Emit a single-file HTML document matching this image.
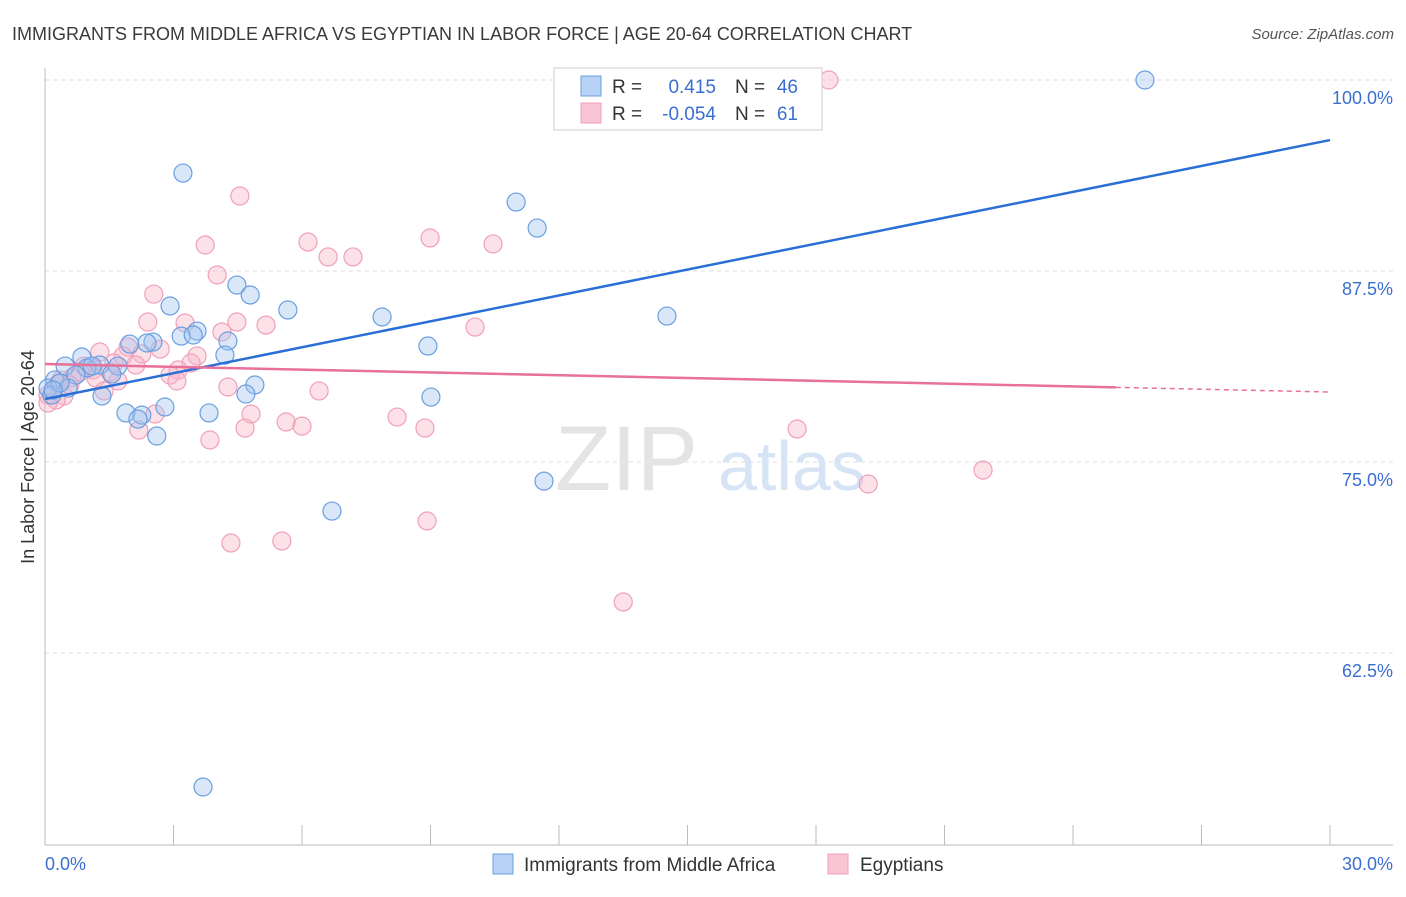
<!DOCTYPE html>
<html><head><meta charset="utf-8"><style>
body{margin:0;background:#fff;font-family:"Liberation Sans",sans-serif}
svg text{font-family:"Liberation Sans",sans-serif}
</style></head><body>
<svg id="chart" width="1406" height="892" xmlns="http://www.w3.org/2000/svg">
<text x="12" y="40" font-size="18" fill="#3a3a3a">IMMIGRANTS FROM MIDDLE AFRICA VS EGYPTIAN IN LABOR FORCE | AGE 20-64 CORRELATION CHART</text>
<text x="1394" y="39" font-size="15" fill="#555" text-anchor="end" font-style="italic">Source: ZipAtlas.com</text>
<g id="grid"></g>
<text x="555" y="490" font-size="92" fill="#e4e4e4" font-family="Liberation Serif">ZIP</text>
<text x="718" y="490" font-size="70" fill="#d6e4f5">atlas</text>
<line x1="45" y1="68" x2="45" y2="845" stroke="#bbb"/>
<line x1="45" y1="845" x2="1393" y2="845" stroke="#bbb"/>
<g id="xticks"></g>
<text transform="translate(34,457) rotate(-90)" font-size="18" fill="#333" text-anchor="middle">In Labor Force | Age 20-64</text>
<text x="45" y="870" font-size="18" fill="#3a6fd0">0.0%</text>
<text x="1393" y="870" font-size="18" fill="#3a6fd0" text-anchor="end">30.0%</text>
<g id="points"></g>
<g id="trends"></g>
<g>
<rect x="554" y="68" width="268" height="62" fill="#fff" stroke="#ccc"/>
<rect x="581" y="76" width="20" height="20" fill="#b8d2f5" stroke="#6a9fe0"/>
<rect x="581" y="103" width="20" height="20" fill="#f9c4d4" stroke="#f0a0b8"/>
<text x="612" y="93" font-size="19" fill="#333">R =</text>
<text x="716" y="93" font-size="19" fill="#3a6fd0" text-anchor="end">0.415</text>
<text x="735" y="93" font-size="19" fill="#333">N =</text>
<text x="798" y="93" font-size="19" fill="#3a6fd0" text-anchor="end">46</text>
<text x="612" y="120" font-size="19" fill="#333">R =</text>
<text x="716" y="120" font-size="19" fill="#3a6fd0" text-anchor="end">-0.054</text>
<text x="735" y="120" font-size="19" fill="#333">N =</text>
<text x="798" y="120" font-size="19" fill="#3a6fd0" text-anchor="end">61</text>
</g>
<g>
<rect x="493" y="854" width="20" height="20" fill="#b8d2f5" stroke="#6a9fe0"/>
<text x="524" y="871" font-size="19" fill="#333">Immigrants from Middle Africa</text>
</g>
<g>
<rect x="828" y="854" width="20" height="20" fill="#f9c4d4" stroke="#f0a0b8"/>
<text x="860" y="871" font-size="19" fill="#333">Egyptians</text>
</g>
</svg>
<script>
const yTicks=[100,87.5,75,62.5];
const yTickLabels=["100.0%","87.5%","75.0%","62.5%"];
const blueX=[25.68,3.22,11.0,11.49,2.92,4.48,4.79,5.67,7.87,14.52,3.55,3.18,3.46,1.98,2.52,4.27,2.38,4.20,8.94,0.86,0.47,1.28,1.70,0.98,1.56,0.72,0.23,4.90,4.69,1.33,0.54,0.07,0.16,2.80,1.89,2.26,2.17,3.83,2.61,9.01,11.65,6.70,3.69,0.35,1.10,0.19];
const blueY=[100,93.91,92.01,90.31,85.21,86.58,85.93,84.95,84.49,84.55,83.57,83.24,83.31,82.72,82.85,82.92,82.79,82.0,82.59,81.87,81.28,81.35,81.28,81.15,80.76,80.69,80.37,80.04,79.45,79.32,79.84,79.84,79.38,78.60,78.21,78.07,77.81,78.21,76.70,79.25,73.75,71.79,53.73,80.17,81.28,79.71];
const pinkX=[18.30,4.55,3.74,6.14,8.99,10.46,6.61,7.19,4.02,2.54,2.40,3.27,4.48,5.16,10.04,4.13,2.69,1.94,1.28,1.82,3.55,2.26,3.41,1.61,0.91,1.12,3.11,2.92,3.08,1.19,1.70,0.63,0.37,4.27,6.40,1.38,0.44,0.26,0.07,4.81,2.57,8.22,5.63,6.00,4.67,8.87,2.19,3.85,17.56,21.90,19.22,8.92,4.34,5.53,13.50,0.82,0.30,0.58,0.07,1.52,2.12];
const pinkY=[100,92.41,89.20,89.40,89.66,89.27,88.42,88.42,87.24,85.99,84.16,84.10,84.16,83.96,83.83,83.51,82.39,82.52,82.20,81.94,81.94,82.07,81.48,81.48,81.28,81.02,81.02,80.69,80.30,80.50,80.30,80.50,80.37,79.91,79.65,79.65,79.32,79.06,79.38,78.14,78.14,77.94,77.62,77.35,77.22,77.22,77.09,76.44,77.16,74.47,73.56,71.14,69.70,69.83,65.84,80.89,80.11,80.04,78.86,80.89,81.35];
const blueTrend=[79.12,96.07];
const pinkTrend=[81.41,79.58];
const pinkSolidEnd=25;
const NS="http://www.w3.org/2000/svg";
const sx=v=>45+v*1285/30;
const sy=v=>80+(100-v)*191/12.5;
function mk(tag,attrs,parent){const e=document.createElementNS(NS,tag);for(const k in attrs)e.setAttribute(k,attrs[k]);parent.appendChild(e);return e;}
const grid=document.getElementById('grid');
yTicks.forEach((t,i)=>{
 const l=mk('line',{x1:45,x2:1393,y1:sy(t),y2:sy(t),stroke:'#ddd','stroke-dasharray':'4,4'},grid);
 
 
 const tx=mk('text',{x:1393,y:sy(t)+24,'font-size':18,fill:'#3a6fd0','text-anchor':'end'},grid);
 tx.textContent=yTickLabels[i];
 
 
});
const xt=document.getElementById('xticks');
for(let k=0;k<=10;k++){
 const l=mk('line',{x1:sx(k*3),x2:sx(k*3),y1:825,y2:845,stroke:'#bbb'},xt);
 
 
}
const pts=document.getElementById('points');
pinkX.forEach((x,i)=>{
 const c=mk('circle',{cx:sx(x),cy:sy(pinkY[i]),r:9,fill:'rgba(248,180,200,0.4)',stroke:'#f0a0b8','stroke-width':1.2},pts);
 
 
});
blueX.forEach((x,i)=>{
 const c=mk('circle',{cx:sx(x),cy:sy(blueY[i]),r:9,fill:'rgba(160,196,240,0.4)',stroke:'#6a9fe0','stroke-width':1.2},pts);
 
 
});
const tr=document.getElementById('trends');
const bl=mk('line',{x1:sx(0),y1:sy(blueTrend[0]),x2:sx(30),y2:sy(blueTrend[1]),stroke:'#2a6fd6','stroke-width':2.5},tr);


const pAt=x=>pinkTrend[0]+(pinkTrend[1]-pinkTrend[0])*x/30;
const pl=mk('line',{x1:sx(0),y1:sy(pinkTrend[0]),x2:sx(pinkSolidEnd),y2:sy(pAt(pinkSolidEnd)),stroke:'#e8709a','stroke-width':2.5},tr);


const pd=mk('line',{x1:sx(pinkSolidEnd),y1:sy(pAt(pinkSolidEnd)),x2:sx(30),y2:sy(pinkTrend[1]),stroke:'#e8709a','stroke-width':1.5,'stroke-dasharray':'5,4'},tr);


</script>
</body></html>
